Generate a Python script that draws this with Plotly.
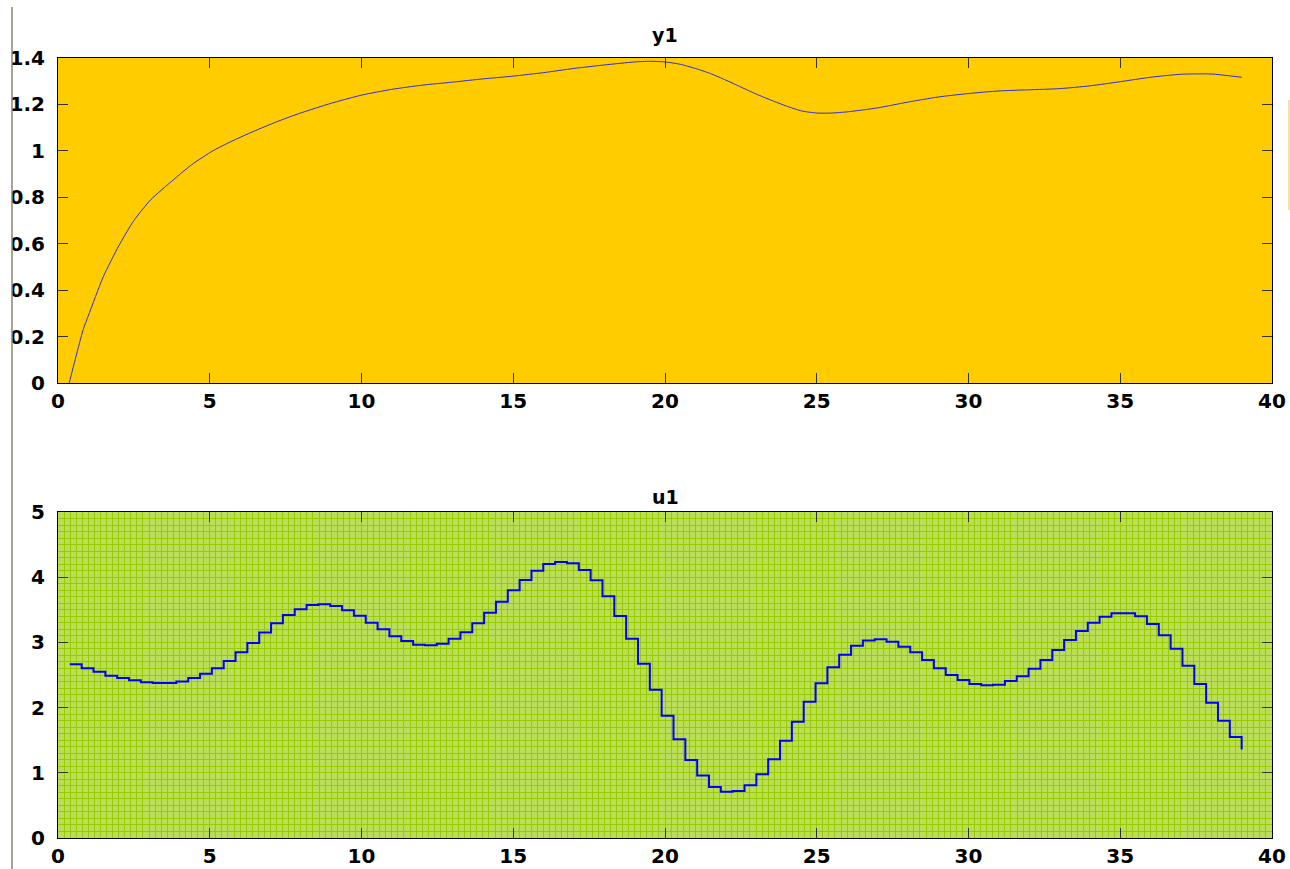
import plotly.graph_objects as go

# ---- data ----
# y1: smooth output curve (x, y)
y1_t = [0.37, 0.83, 1.0, 1.5, 2.0, 2.5, 3.06, 3.8, 4.4, 5.1, 5.7, 6.43, 7.2, 7.97,
        9.0, 10.0, 11.0, 12.0, 13.0, 14.0, 15.0, 16.0, 17.0, 18.0, 19.0, 19.5, 20.0,
        20.5, 21.0, 21.5, 22.0, 22.5, 23.0, 23.5, 24.0, 24.5, 25.0, 25.5, 26.0, 27.0,
        28.0, 29.0, 30.0, 31.0, 32.0, 33.0, 34.0, 35.0, 36.0, 37.0, 38.0, 39.0]
y1_v = [0.0, 0.23, 0.29, 0.46, 0.59, 0.70, 0.79, 0.875, 0.94, 1.0, 1.04, 1.083, 1.125, 1.162,
        1.205, 1.24, 1.265, 1.283, 1.296, 1.31, 1.322, 1.337, 1.355, 1.37, 1.383, 1.386, 1.383,
        1.373, 1.355, 1.333, 1.305, 1.275, 1.245, 1.218, 1.193, 1.172, 1.163, 1.163, 1.168, 1.185,
        1.21, 1.232, 1.247, 1.258, 1.263, 1.268, 1.28, 1.298, 1.317, 1.33, 1.331, 1.317]

# u1: sampled input (stairs), sample time Ts
Ts = 0.39
u1_v = [2.664, 2.602, 2.551, 2.490, 2.454, 2.418, 2.387, 2.377, 2.377, 2.402,
        2.454, 2.521, 2.602, 2.715, 2.848, 2.991, 3.150, 3.292, 3.420, 3.507,
        3.574, 3.584, 3.559, 3.492, 3.410, 3.302, 3.200, 3.093, 3.021, 2.965,
        2.955, 2.980, 3.057, 3.154, 3.292, 3.456, 3.625, 3.799, 3.957, 4.100,
        4.202, 4.233, 4.213, 4.110, 3.952, 3.707, 3.405, 3.057, 2.674, 2.275,
        1.876, 1.513, 1.196, 0.957, 0.782, 0.711, 0.721, 0.808, 0.976, 1.206,
        1.493, 1.784, 2.091, 2.372, 2.617, 2.812, 2.950, 3.031, 3.047, 3.011,
        2.935, 2.848, 2.730, 2.602, 2.500, 2.423, 2.362, 2.341, 2.351, 2.408,
        2.479, 2.597, 2.730, 2.883, 3.036, 3.175, 3.302, 3.395, 3.446, 3.446,
        3.400, 3.282, 3.109, 2.904, 2.643, 2.362, 2.076, 1.800, 1.549, 1.359]
u1_t = [round(Ts * (k + 1), 4) for k in range(len(u1_v))]

x_ticks = [0, 5, 10, 15, 20, 25, 30, 35, 40]
y1_ticks = [0, 0.2, 0.4, 0.6, 0.8, 1, 1.2, 1.4]
u1_ticks = [0, 1, 2, 3, 4, 5]

# ---- figure ----
W, H = 1290, 869
ML, MR, MT, MB = 58, 18, 58, 31
PW, PH = W - ML - MR, H - MT - MB

def py(px):  # pixel row -> paper y
    return (H - MB - px) / PH

def pxx(px):  # pixel col -> paper x
    return (px - ML) / PW

fig = go.Figure()
fig.add_trace(go.Scatter(x=y1_t, y=y1_v, mode="lines", line=dict(color="rgb(45,45,215)", width=1,
                         shape="spline", smoothing=0.6), xaxis="x", yaxis="y", showlegend=False))
fig.add_trace(go.Scatter(x=u1_t, y=u1_v, mode="lines", line=dict(color="#0000ff", width=2, shape="hv"),
                         xaxis="x2", yaxis="y2", showlegend=False))

tickfont = dict(family="DejaVu Sans", size=20, color="black", weight="bold")
common = dict(showline=True, linecolor="black", linewidth=1, mirror="ticks", ticks="inside",
              ticklen=10, tickwidth=1, tickcolor="#333333", tickfont=tickfont, zeroline=False,
              automargin=False)

fig.update_layout(
    width=W, height=H,
    margin=dict(l=ML, r=MR, t=MT, b=MB, autoexpand=False),
    paper_bgcolor="white",
    xaxis=dict(domain=[0, 1], anchor="y", range=[0, 40], tickvals=x_ticks, showgrid=False, **common),
    yaxis=dict(domain=[py(383), 1], anchor="x", range=[0, 1.4], tickvals=y1_ticks, showgrid=False,
               ticklabelstandoff=8, **common),
    xaxis2=dict(domain=[0, 1], anchor="y2", range=[0, 40], tickvals=x_ticks, showgrid=False,
                minor=dict(dtick=0.2, showgrid=True, gridcolor="#99cc00", gridwidth=1), **common),
    yaxis2=dict(domain=[0, py(512)], anchor="x2", range=[0, 5], tickvals=u1_ticks, showgrid=False,
                ticklabelstandoff=8,
                minor=dict(dtick=0.1, showgrid=True, gridcolor="#99cc00", gridwidth=1), **common),
    shapes=[
        # plot backgrounds
        dict(type="rect", xref="x domain", yref="y domain", x0=0, x1=1, y0=0, y1=1,
             fillcolor="#ffcc00", line_width=0, layer="below"),
        dict(type="rect", xref="x2 domain", yref="y2 domain", x0=0, x1=1, y0=0, y1=1,
             fillcolor="#bade58", line_width=0, layer="below"),
        # cropped left edge of the figure
        dict(type="rect", xref="paper", yref="paper", x0=pxx(-5), x1=pxx(12), y0=py(H + 5), y1=py(-5),
             fillcolor="white", line_width=0, layer="above"),
        dict(type="line", xref="paper", yref="paper", x0=pxx(12), x1=pxx(12), y0=py(H + 2), y1=py(7),
             line=dict(color="#8a8672", width=1.5), layer="above"),
        dict(type="line", xref="paper", yref="paper", x0=pxx(1289), x1=pxx(1289), y0=py(210), y1=py(100),
             line=dict(color="#e8c45a", width=1), layer="above"),
    ],
    annotations=[
        dict(text="y1", xref="paper", yref="paper", x=0.5, y=py(35), yanchor="middle", showarrow=False,
             font=dict(family="DejaVu Sans", size=19, color="black", weight="bold")),
        dict(text="u1", xref="paper", yref="paper", x=0.5, y=py(497), yanchor="middle", showarrow=False,
             font=dict(family="DejaVu Sans", size=19, color="black", weight="bold")),
    ],
)

fig.write_html("out.html", config={"displayModeBar": False},
               post_script="document.body.style.margin='0';document.body.style.overflow='hidden';")
